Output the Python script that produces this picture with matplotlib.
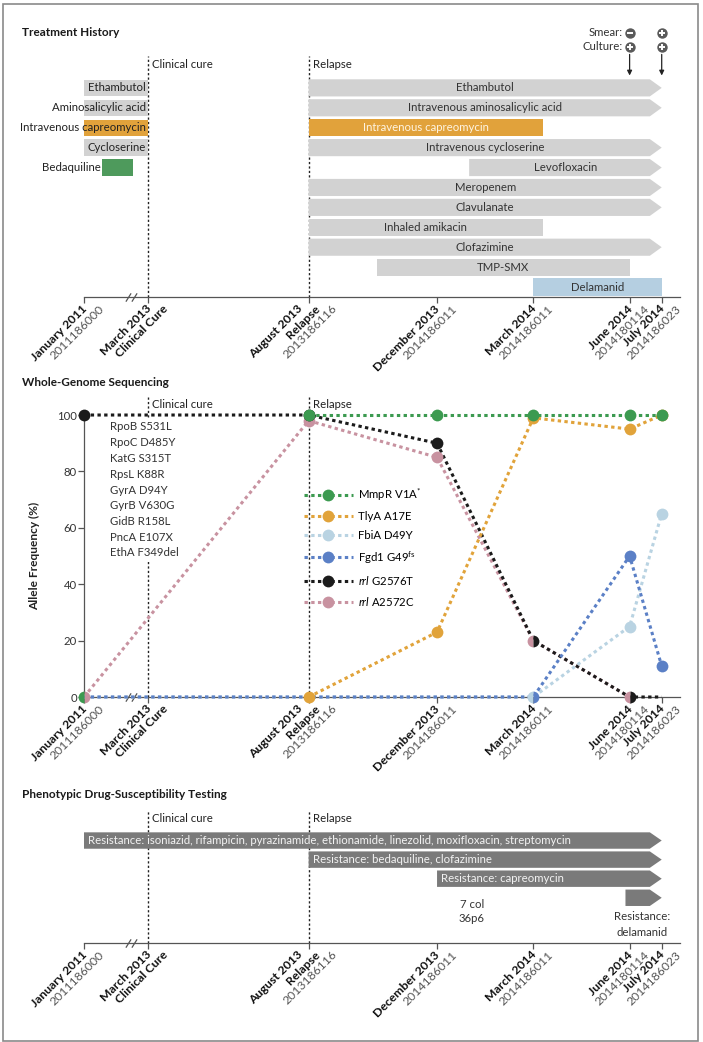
import numpy as np
import pandas as pd
import matplotlib
matplotlib.use('Agg')
import matplotlib.pyplot as plt
from matplotlib.patches import Polygon, Rectangle
from matplotlib.lines import Line2D

plt.rcParams['font.family'] = ['Lato', 'DejaVu Sans']
plt.rcParams['mathtext.fontset'] = 'custom'
plt.rcParams['mathtext.rm'] = 'Lato'
plt.rcParams['mathtext.it'] = 'Lato:italic'

# ---- timeline ----
tick_dates = ['2011-01-01', '2013-03-01', '2013-08-01', '2013-12-01',
              '2014-03-01', '2014-06-01', '2014-07-01']
tick_titles = [['January 2011'], ['March 2013', 'Clinical Cure'],
               ['August 2013', 'Relapse'], ['December 2013'], ['March 2014'],
               ['June 2014'], ['July 2014']]
tick_ids = ['2011186000', '', '2013186116', '2014186011', '2014186011',
            '2014180114', '2014186023']
cure_date = '2013-03-01'
relapse_date = '2013-08-01'

# ---- treatment history ----
pre_drugs = ['Ethambutol', 'Aminosalicylic acid', 'Intravenous capreomycin',
             'Cycloserine', 'Bedaquiline']
pre_start = ['2011-01-01', '2011-01-01', '2011-01-01', '2011-01-01', '2011-08-15']
pre_end = ['2013-03-01', '2013-03-01', '2013-03-01', '2013-03-01', '2012-09-01']

post_drugs = ['Ethambutol', 'Intravenous aminosalicylic acid',
              'Intravenous capreomycin', 'Intravenous cycloserine', 'Levofloxacin',
              'Meropenem', 'Clavulanate', 'Inhaled amikacin', 'Clofazimine',
              'TMP-SMX', 'Delamanid']
post_start = ['2013-08-01', '2013-08-01', '2013-08-01', '2013-08-01', '2014-01-01',
              '2013-08-01', '2013-08-01', '2013-08-01', '2013-08-01', '2013-10-05',
              '2014-03-01']
post_end = ['2014-07-01', '2014-07-01', '2014-03-10', '2014-07-01', '2014-07-01',
            '2014-07-01', '2014-07-01', '2014-03-10', '2014-07-01', '2014-06-01',
            '2014-07-01']
post_ongoing = [True, True, False, True, True, True, True, False, True, False, False]

obs_dates = ['2014-06-01', '2014-07-01']
smear = ['-', '+']
culture = ['+', '+']

# ---- whole-genome sequencing ----
wgs_dates = ['2011-01-01', '2013-08-01', '2013-12-01', '2014-03-01',
             '2014-06-01', '2014-07-01']
mmpr = [0, 100, 100, 100, 100, 100]
tlya = [0, 0, 23, 99, 95, 100]
fbia = [0, 0, 0, 0, 25, 65]
fgd1 = [0, 0, 0, 0, 50, 11]
g2576t = [100, 100, 90, 20, 0, 0]
a2572c = [0, 98, 85, 20, 0, np.nan]
wgs_names = [r'MmpR V1A$^{*}$', 'TlyA A17E', 'FbiA D49Y',
             r'Fgd1 G49$^{\mathrm{fs}}$', r'$\mathit{rrl}$ G2576T',
             r'$\mathit{rrl}$ A2572C']
baseline_mutations = ['RpoB S531L', 'RpoC D485Y', 'KatG S315T', 'RpsL K88R',
                      'GyrA D94Y', 'GyrB V630G', 'GidB R158L', 'PncA E107X',
                      'EthA F349del']

# ---- phenotypic DST ----
dst_labels = ['Resistance: isoniazid, rifampicin, pyrazinamide, ethionamide, '
              'linezolid, moxifloxacin, streptomycin',
              'Resistance: bedaquiline, clofazimine',
              'Resistance: capreomycin', '']
dst_start = ['2011-01-01', '2013-08-01', '2013-12-01', '2014-05-28']
dst_end = ['2014-07-01', '2014-07-01', '2014-07-01', '2014-07-01']


def tpos(d):
    # months after March 2013; the 2011-2013 stretch is squeezed behind the axis break
    t = pd.Timestamp(d)
    m = (t.year - 2013) * 12 + (t.month - 3) + (t.day - 1) / t.days_in_month
    return m if m >= 0 else m * 2 / 26


W, H = 703, 1042
fig = plt.figure(figsize=(W / 100, H / 100), dpi=100)


def box(top, bottom, left=84, right=680):
    return [left / W, 1 - bottom / H, (right - left) / W, (bottom - top) / H]


ax1 = fig.add_axes(box(56, 297))
ax2 = fig.add_axes(box(395, 697))
ax3 = fig.add_axes(box(810, 943))

AX = '#555555'
FS = 8.2
TFS = 8.8


def timeline(ax):
    ax.set_xlim(-2, 16.57)
    for s in ['top', 'right', 'left']:
        ax.spines[s].set_visible(False)
    ax.spines['bottom'].set_color(AX)
    ax.spines['bottom'].set_linewidth(0.9)
    ax.set_xticks([tpos(d) for d in tick_dates])
    ax.set_xticklabels([])
    ax.tick_params(axis='x', direction='out', length=4, width=0.9, color=AX)
    ax.set_yticks([])
    for d, name in [(cure_date, 'Clinical cure'), (relapse_date, 'Relapse')]:
        ax.axvline(tpos(d), color='#222222', lw=1.0, ls=(0, (1.6, 1.6)), zorder=1)
        ax.annotate(name, xy=(tpos(d), 1), xycoords=('data', 'axes fraction'),
                    xytext=(4, -9), textcoords='offset pixels', fontsize=FS,
                    va='center', color='#222222')
    # axis break
    ax.plot([-0.62, -0.44], [0, 0], transform=ax.get_xaxis_transform(),
            marker=[(-1, -1.6), (1, 1.6)], ms=6, ls='none', color=AX, mew=0.9,
            clip_on=False)
    for d, titles, num in zip(tick_dates, tick_titles, tick_ids):
        lines = [(t, 'bold', '#111111') for t in titles]
        if num:
            lines.append((num, 'normal', '#555555'))
        n = len(lines)
        for i, (txt, weight, col) in enumerate(lines):
            dx = 5.5 + 17 * (i - (n - 1) / 2)
            ax.annotate(txt, xy=(tpos(d), 0), xycoords=ax.get_xaxis_transform(),
                        xytext=(dx, -6), textcoords='offset pixels', rotation=45,
                        rotation_mode='anchor', ha='right', va='top', fontsize=TFS,
                        fontweight=weight, color=col, annotation_clip=False)


def bar(ax, x0, x1, y, h, color, arrow):
    a = 0.37 if arrow else 0
    pts = [(x0, y - h / 2), (x1 - a, y - h / 2), (x1, y), (x1 - a, y + h / 2),
           (x0, y + h / 2)]
    ax.add_patch(Polygon(pts, closed=True, fc=color, ec='none', zorder=2))


GRAY = '#d2d2d2'
ORANGE = '#e1a23b'
GREEN = '#4e9a5c'
LBLUE = '#b5cfe1'

# ---- Treatment history ----
timeline(ax1)
ax1.set_ylim(10.5, -1.6)
pre_colors = [GRAY, GRAY, ORANGE, GRAY, GREEN]
for i, (name, s, e) in enumerate(zip(pre_drugs, pre_start, pre_end)):
    bar(ax1, tpos(s), tpos(e), i, 0.82, pre_colors[i], False)
    anchor = tpos(s) if name == 'Bedaquiline' else tpos(e)
    ax1.annotate(name, xy=(anchor, i), xytext=(-2, 0), textcoords='offset pixels',
                 ha='right', va='center', fontsize=FS, color='#222222', zorder=3,
                 annotation_clip=False)

post_colors = [GRAY, GRAY, ORANGE, GRAY, GRAY, GRAY, GRAY, GRAY, GRAY, GRAY, LBLUE]
for i, (name, s, e, on) in enumerate(zip(post_drugs, post_start, post_end, post_ongoing)):
    x0, x1 = tpos(s), tpos(e)
    bar(ax1, x0, x1, i, 0.86, post_colors[i], on)
    tc = '#fff4e0' if post_colors[i] == ORANGE else '#333333'
    ax1.text((x0 + x1) / 2, i, name, ha='center', va='center', fontsize=FS,
             color=tc, zorder=3)

# smear / culture results
for xv, sm, cu in zip([tpos(d) for d in obs_dates], smear, culture):
    for yv, sign in [(-2.76, sm), (-2.06, cu)]:
        ax1.plot(xv, yv, 'o', ms=7.5, color='#5a5a5a', mew=0, clip_on=False)
        ax1.plot(xv, yv, '_' if sign == '-' else '+', ms=4.5, mew=1.4,
                 color='white', clip_on=False)
    ax1.annotate('', xy=(xv, -0.62), xytext=(xv, -1.68),
                 arrowprops=dict(arrowstyle='-|>', color='#222222', lw=0.9,
                                 mutation_scale=7, shrinkA=0, shrinkB=0),
                 annotation_clip=False)
x_sm = tpos(obs_dates[0])
ax1.annotate('Smear:', xy=(x_sm, -2.76), xytext=(-7, 0), textcoords='offset pixels',
             ha='right', va='center', fontsize=FS, color='#333333',
             annotation_clip=False)
ax1.annotate('Culture:', xy=(x_sm, -2.06), xytext=(-7, 0), textcoords='offset pixels',
             ha='right', va='center', fontsize=FS, color='#333333',
             annotation_clip=False)

# ---- Whole-genome sequencing ----
timeline(ax2)
ax2.set_ylim(0, 107.1)
ax2.spines['left'].set_visible(True)
ax2.spines['left'].set_bounds(0, 100)
ax2.spines['left'].set_color(AX)
ax2.spines['left'].set_linewidth(0.9)
ax2.set_yticks(range(0, 101, 20))
ax2.tick_params(axis='y', direction='out', length=4, width=0.9, color=AX,
                labelsize=FS, labelcolor='#333333', pad=1)
ax2.set_ylabel('Allele Frequency (%)', fontsize=8.6, fontweight='bold',
               color='#222222')
ax2.yaxis.set_label_coords(-(84 - 40) / 596, 50 / 107.1)

wgs_values = [mmpr, tlya, fbia, fgd1, g2576t, a2572c]
wgs_colors = ['#3c9a50', '#e1a33a', '#b9d3e2', '#5b80c6', '#1b1b1b', '#c892a0']
line_from = [1, 1, 0, 0, 0, 0]
dash_offset = [0, 0, 0, 2.2, 0, 0]
marker_fill = [
    ['left', 'full', 'full', 'full', 'full', 'full'],
    [None, 'full', 'full', 'full', 'full', 'full'],
    [None, None, None, 'left', 'full', 'full'],
    [None, None, None, 'right', 'full', 'full'],
    ['full', 'full', 'full', 'right', 'right', None],
    ['right', 'full', 'full', 'left', 'left', None],
]
draw_order = [5, 4, 2, 3, 1, 0]
wx = np.array([tpos(d) for d in wgs_dates])
for z, k in enumerate(draw_order):
    vals = np.array(wgs_values[k], dtype=float)
    c = wgs_colors[k]
    s = line_from[k]
    ax2.plot(wx[s:], vals[s:], color=c, lw=2.2,
             ls=(dash_offset[k], (1.1, 1.1)), clip_on=False, zorder=3 + z * 0.1)
    for j, fs in enumerate(marker_fill[k]):
        if fs is None:
            continue
        ax2.plot(wx[j], vals[j], 'o', ms=8.5, color=c, mew=0, fillstyle=fs,
                 markerfacecoloralt='none', clip_on=False, zorder=5 + z * 0.1)

handles = [Line2D([], [], color=c, lw=2.2, ls=(0, (1.1, 1.1)), marker='o',
                  ms=8.5, mew=0) for c in wgs_colors]
ax2.legend(handles, wgs_names, loc='upper left',
           bbox_to_anchor=(304 / W, 1 - 486 / H), bbox_transform=fig.transFigure,
           frameon=False, handlelength=4.3, handletextpad=0.45, labelspacing=0.72,
           borderpad=0, borderaxespad=0, fontsize=FS, numpoints=1)

# mutations present from the start, on a white patch over the cure line
ax2.add_patch(Rectangle((0.035, 0.447), 0.128, 0.474, transform=ax2.transAxes,
                        fc='white', ec='none', zorder=2))
for i, m in enumerate(baseline_mutations):
    fig.text(110 / W, 1 - (427 + 15.75 * i) / H, m, fontsize=FS, va='center',
             color='#333333')

# ---- Phenotypic DST ----
timeline(ax3)
ax3.set_ylim(5.37, -1.6)
for i, (lab, s, e) in enumerate(zip(dst_labels, dst_start, dst_end)):
    x0, x1 = tpos(s), tpos(e)
    bar(ax3, x0, x1, i, 0.86, '#7a7a7a', True)
    if lab:
        ax3.annotate(lab, xy=(x0, i), xytext=(4, 0), textcoords='offset pixels',
                     ha='left', va='center', fontsize=FS, color='#f2f2f2', zorder=3)
fig.text(472 / W, 1 - 905 / H, '7 col', fontsize=FS, ha='center', va='center',
         color='#333333')
fig.text(472 / W, 1 - 918 / H, '36p6', fontsize=FS, ha='center', va='center',
         color='#333333')
fig.text(642 / W, 1 - 917 / H, 'Resistance:', fontsize=FS, ha='center',
         va='center', color='#333333')
fig.text(642 / W, 1 - 932 / H, 'delamanid', fontsize=FS, ha='center',
         va='center', color='#333333')

# panel titles
for y, t in [(32, 'Treatment History'), (382, 'Whole-Genome Sequencing'),
             (795, 'Phenotypic Drug-Susceptibility Testing')]:
    fig.text(22 / W, 1 - y / H, t, fontsize=8.5, fontweight='bold', va='center',
             color='#1a1a1a')

fig.add_artist(Rectangle((3 / W, 1 - 1041 / H), 695 / W, 1037 / H,
                         transform=fig.transFigure, fill=False, ec='#8a8a8a',
                         lw=1.2))

fig.savefig('out.png', dpi=100)
